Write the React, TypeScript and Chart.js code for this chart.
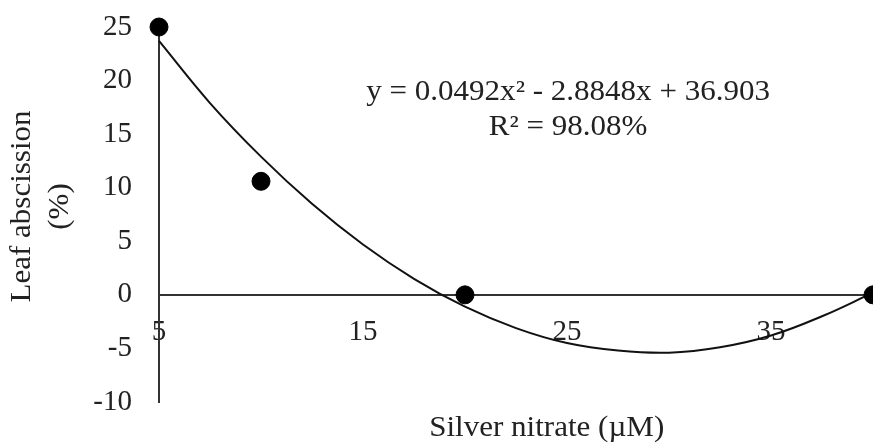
import React, { useEffect, useRef } from 'react';
import Chart from 'chart.js/auto';

// Observed points
const doses = [5, 10, 20, 40];
const abscission = [25, 10.6, 0, 0];

// Fitted curve
const curveX = [5, 7.5, 10, 12.5, 15, 17.5, 20, 22.5, 25, 27.5, 30, 32.5, 35, 37.5, 40];
const curveY = [23.7, 17.9, 12.9, 8.5, 4.7, 1.5, -1.1, -3.1, -4.5, -5.2, -5.4, -4.9, -3.8, -2.0, 0.2];

const xTicks = [5, 15, 25, 35];
const yTicks = [-10, -5, 0, 5, 10, 15, 20, 25];

const equationLines = ['y = 0.0492x² - 2.8848x + 36.903', 'R² = 98.08%'];
const xTitle = 'Silver nitrate (µM)';
const yTitle = ['Leaf abscission', '(%)'];

const FONT_FAMILY = '"Liberation Serif", "Times New Roman", serif';
const FONT_SIZE = 29;
const TEXT_COLOR = '#222';
const H_STRETCH = 1.07;

export default function App() {
  const ref = useRef<HTMLCanvasElement | null>(null);

  useEffect(() => {
    if (!ref.current) return;

    const drawStretched = (ctx: CanvasRenderingContext2D, text: string, x: number, y: number) => {
      ctx.save();
      ctx.translate(x, y);
      ctx.scale(H_STRETCH, 1);
      ctx.fillText(text, 0, 0);
      ctx.restore();
    };

    const textPlugin = {
      id: 'annotText',
      afterDraw(chart: any) {
        const ctx = chart.ctx as CanvasRenderingContext2D;
        const area = chart.chartArea;
        ctx.save();
        ctx.fillStyle = TEXT_COLOR;
        ctx.font = `${FONT_SIZE}px ${FONT_FAMILY}`;
        ctx.textAlign = 'center';
        ctx.textBaseline = 'middle';
        // equation
        const eqX = area.left + (area.right - area.left) * 0.573;
        drawStretched(ctx, equationLines[0], eqX, area.top + 65);
        drawStretched(ctx, equationLines[1], eqX, area.top + 100);
        // x title
        drawStretched(ctx, xTitle, area.left + (area.right - area.left) * 0.543, area.bottom + 26);
        // y title
        const cy = (area.top + area.bottom) / 2;
        ctx.translate(22, cy - 8);
        ctx.rotate(-Math.PI / 2);
        drawStretched(ctx, yTitle[0], 0, 0);
        drawStretched(ctx, yTitle[1], 0, 38);
        ctx.restore();
      },
    };

    const chart = new Chart(ref.current, {
      type: 'scatter',
      data: {
        datasets: [
          {
            label: 'Leaf abscission',
            data: doses.map((d, i) => ({ x: d, y: abscission[i] })),
            pointRadius: 9,
            pointHoverRadius: 9,
            backgroundColor: '#000',
            borderColor: '#000',
            showLine: false,
            clip: false as any,
            order: 0,
          },
          {
            label: 'Fit',
            type: 'line' as any,
            data: curveX.map((x, i) => ({ x, y: curveY[i] })),
            showLine: true,
            pointRadius: 0,
            borderColor: '#111',
            borderWidth: 2,
            tension: 0.4,
            fill: false,
            clip: false as any,
            order: 1,
          },
        ],
      },
      plugins: [textPlugin],
      options: {
        responsive: false,
        animation: false,
        layout: { autoPadding: false, padding: { top: 27, right: 0, bottom: 45, left: 0 } },
        plugins: {
          legend: { display: false },
          tooltip: { enabled: false },
        },
        scales: {
          x: {
            type: 'linear',
            position: { y: 0 } as any,
            min: 5,
            max: 40,
            afterBuildTicks: (axis: any) => {
              axis.ticks = xTicks.map((v) => ({ value: v }));
            },
            afterFit: (scale: any) => {
              scale.paddingLeft = 0;
              scale.paddingRight = 0;
            },
            grid: { display: false, drawTicks: false, tickLength: 0 },
            border: { display: true, color: '#333', width: 2 },
            ticks: {
              font: { family: FONT_FAMILY, size: FONT_SIZE },
              color: TEXT_COLOR,
              padding: 20,
              maxRotation: 0,
              autoSkip: false,
            },
          },
          y: {
            type: 'linear',
            min: -10,
            max: 25,
            afterBuildTicks: (axis: any) => {
              axis.ticks = yTicks.map((v) => ({ value: v }));
            },
            afterFit: (scale: any) => {
              scale.width = 159;
              scale.paddingTop = 0;
              scale.paddingBottom = 0;
            },
            grid: { display: false, drawTicks: false, tickLength: 0 },
            border: { display: true, color: '#333', width: 2 },
            ticks: {
              font: { family: FONT_FAMILY, size: FONT_SIZE },
              color: TEXT_COLOR,
              padding: 27,
              autoSkip: false,
            },
          },
        },
      },
    } as any);

    return () => chart.destroy();
  }, []);

  return (
    <div style={{ position: 'fixed', left: 0, top: 0, width: 873, height: 447, background: '#fff' }}>
      <canvas ref={ref} width={873} height={447} style={{ display: 'block' }} />
    </div>
  );
}
